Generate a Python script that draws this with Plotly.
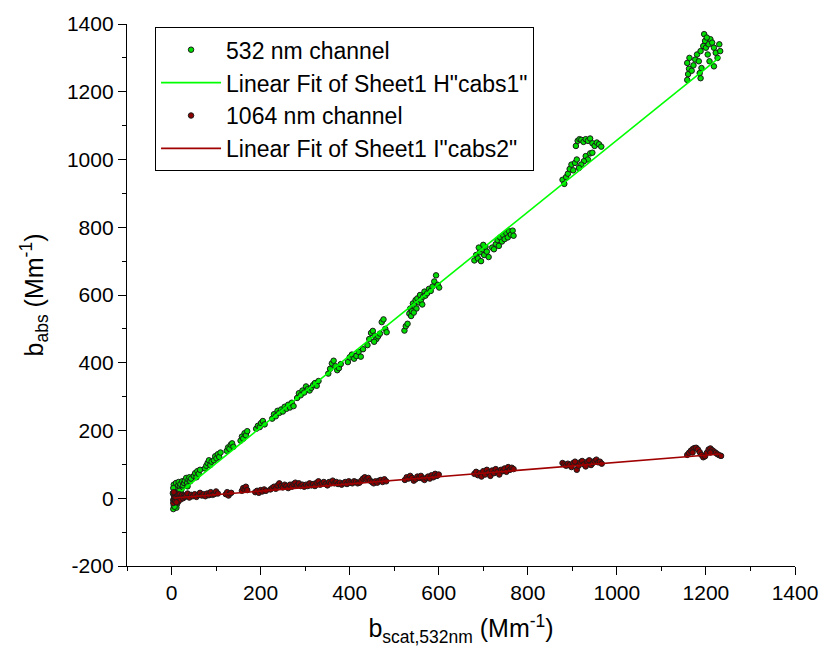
import plotly.graph_objects as go

# ---- data (x = b_scat,532nm, y = b_abs) ----
green_532 = [
    (4,-32),(5,-22),(6,-12),(4,-5),(7,3),(5,10),(8,18),(6,25),(9,32),(5,40),(10,45),(12,-18),(13,8),(14,28),
    (15,38),(16,48),(18,15),(19,35),(20,42),(22,25),(24,50),(26,38),(28,45),(11,-28),(9,-8),(17,22),(7,-25),
    (3,15),(4,30),
    (30,52),(33,60),(35,45),(38,55),(40,62),(42,50),(44,58),(36,35),
    (50,66),(53,74),(56,62),(58,80),(61,72),(64,84),
    (75,88),(78,96),(81,104),(84,112),(87,98),(90,108),
    (95,112),(98,124),(101,118),(104,130),(107,122),(110,135),
    (124,140),(127,150),(130,146),(133,158),(136,162),(139,152),
    (155,170),(158,182),(161,176),(164,192),(167,186),(170,198),
    (190,205),(194,214),(198,210),(201,222),(205,228),(209,218),
    (226,235),(230,248),(234,242),(238,258),(242,252),(246,262),(250,256),(254,270),(258,264),(262,276),
    (266,268),(270,282),(274,272),
    (282,296),(286,310),(290,304),(294,318),(298,312),(302,330),(306,322),(310,318),(314,326),(318,334),
    (322,340),(326,332),(330,346),
    (352,368),(356,382),(360,398),(364,406),(368,390),(372,378),(376,384),(380,396),
    (396,402),(400,416),(405,424),(410,412),(415,420),(420,432),(425,418),(430,440),
    (440,452),(444,470),(448,488),(452,494),(456,480),(460,470),(464,478),(468,486),(472,520),(476,528),
    (480,500),(483,490),(455,462),
    (523,495),(526,508),(530,515),(534,545),(536,560),(540,552),(542,575),(545,568),(548,585),(550,560),
    (552,590),(555,578),(558,600),(560,585),(563,572),(565,595),(568,610),(570,598),(574,605),(578,618),
    (582,612),(586,625),(590,640),(594,658),(598,630),(601,622),(538,538),(544,548),
    (680,702),(684,718),(688,708),(692,726),(695,700),(698,735),(702,718),(705,742),(708,728),(712,712),
    (690,740),(700,748),(728,750),(732,762),(735,745),(738,770),(742,758),(745,776),(748,765),(752,782),
    (755,770),(758,788),(762,778),(766,790),(768,775),(720,740),(724,735),
    (878,940),(882,928),(886,948),(890,958),(894,972),(898,985),(902,968),(906,990),(910,1000),(908,1040),
    (912,1055),(916,1060),(920,1058),(925,1052),(930,1060),(935,1055),(940,1062),(945,1048),(950,1040),
    (955,1050),(960,1045),(965,1038),(930,1010),(935,1000),(940,1018),(926,995),(920,985),(915,975),(945,1020),
    (1158,1235),(1160,1252),(1162,1268),(1158,1285),(1163,1300),(1168,1262),(1172,1278),(1176,1295),
    (1180,1310),(1184,1290),(1188,1320),(1190,1270),(1188,1240),(1194,1335),(1196,1370),(1198,1350),
    (1200,1330),(1204,1310),(1206,1340),(1208,1290),(1210,1355),(1214,1345),(1218,1330),(1222,1315),
    (1226,1300),(1230,1340),(1232,1320),(1186,1255),(1218,1275),(1202,1360),
]

red_1064 = [
    (4,-14),(5,-5),(6,5),(7,12),(8,-8),(9,2),(10,15),(12,-2),(14,8),(15,-10),(17,3),(18,12),(20,-4),(22,6),
    (24,10),(26,0),(28,8),(30,4),(5,18),(11,-12),
    (33,8),(36,14),(40,2),(44,10),(48,6),(52,12),(56,4),(60,10),(64,16),(68,8),(72,12),(76,6),(80,14),
    (84,9),(88,18),(92,10),(96,12),(100,20),(104,14),
    (122,12),(125,18),(128,8),(131,14),(134,16),
    (158,22),(161,30),(164,26),(167,34),(170,24),
    (188,18),(192,22),(196,16),(200,24),(204,20),(208,26),(212,22),
    (222,26),(226,30),(230,34),(234,28),(238,38),(242,44),(246,36),(250,32),(254,40),(258,36),(262,30),
    (266,40),(270,34),(274,42),(278,46),(282,38),(286,44),(290,36),(294,40),(298,34),
    (302,40),(306,36),(310,44),(314,38),(318,42),(322,36),(326,46),(330,50),(334,40),(338,44),(342,48),
    (346,42),(350,38),(354,48),(358,44),
    (362,52),(366,44),(370,48),(374,42),(378,46),(382,40),(386,44),(390,48),(394,42),(398,50),(402,46),
    (406,44),(410,50),(414,48),(418,44),
    (422,46),(426,52),(430,58),(434,62),(438,56),(442,60),(446,52),(450,48),(454,44),(458,50),(462,46),
    (466,52),(470,54),(474,48),(478,56),(482,50),
    (524,54),(528,62),(532,58),(536,66),(540,60),(544,52),(548,56),(552,64),(556,60),(560,66),(564,58),
    (568,54),(572,60),(576,64),(580,58),(584,68),(588,62),(592,72),(596,66),(600,70),
    (680,72),(684,78),(688,68),(692,74),(696,64),(700,80),(704,70),(708,84),(712,76),(716,66),(720,82),
    (724,74),(728,86),(732,78),(736,70),(740,84),(744,80),(748,88),(752,78),(756,92),(760,84),(764,90),(768,86),
    (878,104),(882,100),(886,96),(890,102),(894,98),(898,92),(902,104),(906,108),(910,84),(914,96),
    (918,106),(922,110),(926,100),(930,94),(934,108),(938,112),(942,98),(946,104),(950,110),(954,114),
    (958,106),(962,108),(966,102),
    (1158,128),(1162,134),(1166,140),(1170,145),(1174,148),(1178,149),(1182,144),(1186,136),(1190,128),
    (1194,121),(1198,124),(1202,134),(1206,144),(1210,147),(1214,142),(1218,138),(1222,134),(1226,130),
    (1230,127),(1234,125),(1170,135),(1210,135),
]

# linear fits: y = slope * x + intercept
fit_532 = {"slope": 1.06, "intercept": -3.0}
fit_1064 = {"slope": 0.106, "intercept": 0.0}
fit_x_range = [5, 1232]

x_ticks = [0, 200, 400, 600, 800, 1000, 1200, 1400]
y_ticks = [-200, 0, 200, 400, 600, 800, 1000, 1200, 1400]
y_tick_labels = ["-200", "0", "200", "400", "600", "800", "1000", "1200", "1400"]

gx, gy = zip(*green_532)
rx, ry = zip(*red_1064)

def fit_line(fit):
    return [fit["slope"] * x + fit["intercept"] for x in fit_x_range]

FONT = "Liberation Sans, Arial, sans-serif"

fig = go.Figure()
fig.add_trace(go.Scatter(
    x=gx, y=gy, mode="markers", name="532 nm channel",
    marker=dict(size=5.5, color="#00dd00", line=dict(color="#1a1a1a", width=1)),
))
fig.add_trace(go.Scatter(
    x=fit_x_range, y=fit_line(fit_532), mode="lines",
    name="Linear Fit of Sheet1 H\"cabs1\"",
    line=dict(color="#00ff00", width=1.6),
))
fig.add_trace(go.Scatter(
    x=rx, y=ry, mode="markers", name="1064 nm channel",
    marker=dict(size=5.5, color="#8b0000", line=dict(color="#1a1a1a", width=1)),
))
fig.add_trace(go.Scatter(
    x=fit_x_range, y=fit_line(fit_1064), mode="lines",
    name="Linear Fit of Sheet1 I\"cabs2\"",
    line=dict(color="#a00000", width=1.6),
))

axis_common = dict(
    showline=True, linecolor="black", linewidth=1.3, mirror=False,
    showgrid=False, zeroline=False,
    ticks="outside", ticklen=8, tickwidth=1.3, tickcolor="black",
    tickfont=dict(family=FONT, size=21, color="black"),
)

fig.update_layout(
    width=830, height=662,
    margin=dict(l=127, r=28, t=22, b=96),
    paper_bgcolor="white", plot_bgcolor="white",
    font=dict(family=FONT, color="black"),
    xaxis=dict(
        range=[-100, 1400], tickvals=x_ticks,
        minor=dict(ticks="outside", ticklen=4, dtick=100, tick0=0, tickcolor="black", tickwidth=1.3),
        title=dict(text="b<sub>scat,532nm</sub> (Mm<sup>-1</sup>)", font=dict(family=FONT, size=25), standoff=16),
        **axis_common,
    ),
    yaxis=dict(
        range=[-200, 1400], tickvals=y_ticks, ticktext=y_tick_labels,
        minor=dict(ticks="outside", ticklen=4, dtick=100, tick0=0, tickcolor="black", tickwidth=1.3),
        title=dict(text="b<sub>abs</sub> (Mm<sup>-1</sup>)", font=dict(family=FONT, size=25), standoff=16),
        **axis_common,
    ),
    legend=dict(
        x=0.042, y=0.994, xanchor="left", yanchor="top",
        bgcolor="white", bordercolor="black", borderwidth=1,
        font=dict(family=FONT, size=23, color="black"),
        itemwidth=60, tracegroupgap=0,
    ),
    showlegend=True,
)

fig.write_html("out.html", config={"displayModeBar": False},
               post_script="document.body.style.margin='0px';")
